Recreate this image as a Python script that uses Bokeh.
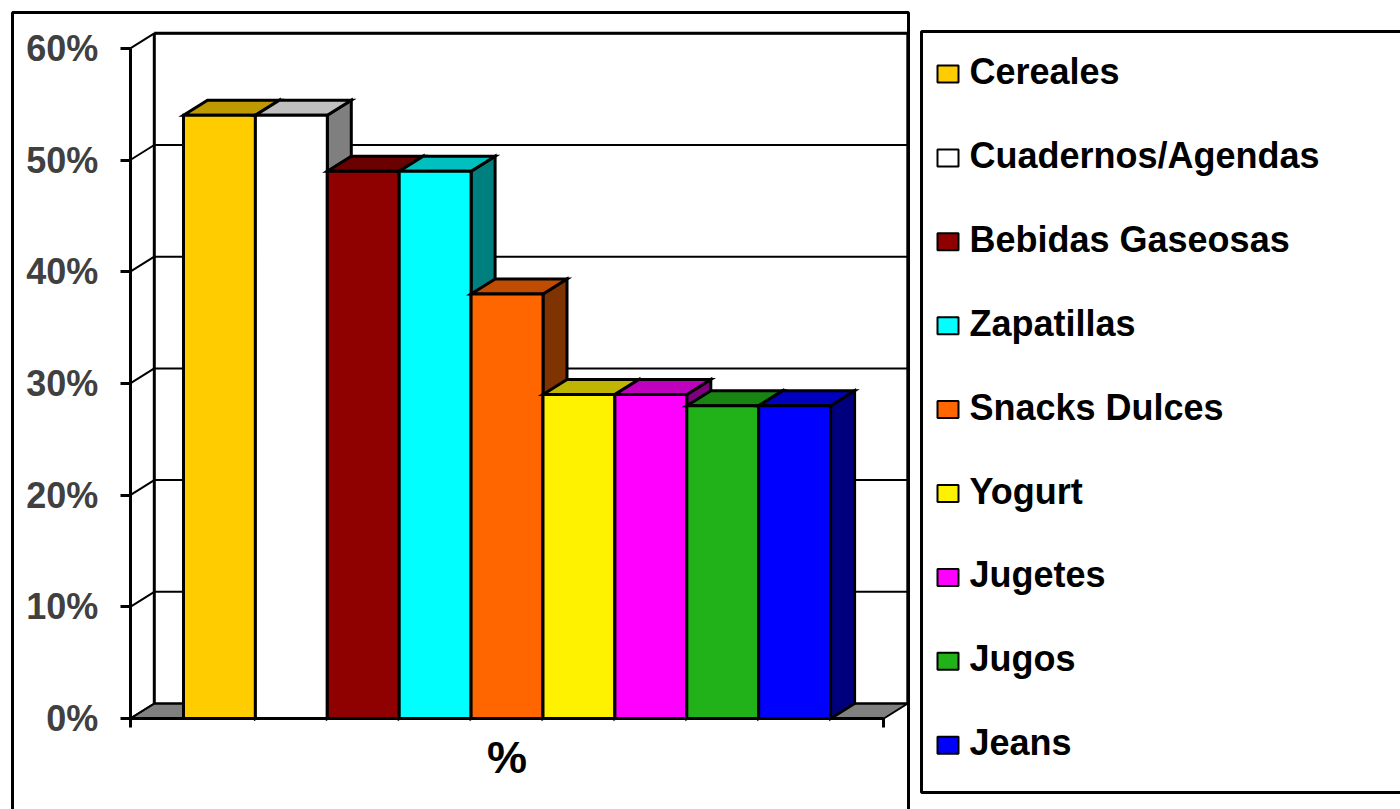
from bokeh.plotting import figure
from bokeh.models import Range1d, LinearAxis, FixedTicker, CustomJSTickFormatter
from bokeh.core.properties import value
from bokeh.embed import file_html
from bokeh.resources import INLINE

# ---------------- data ----------------
CATEGORIES = ["Cereales", "Cuadernos/Agendas", "Bebidas Gaseosas", "Zapatillas",
              "Snacks Dulces", "Yogurt", "Jugetes", "Jugos", "Jeans"]
VALUES = [54, 54, 49, 49, 38, 29, 29, 28, 28]
COLORS = ["#FFCC00", "#FFFFFF", "#8F0000", "#00FFFF", "#FF6600",
          "#FFF200", "#FF00FF", "#20B218", "#0000FF"]
Y_TICKS = [0, 10, 20, 30, 40, 50, 60]
Y_TICK_LABELS = ["0%", "10%", "20%", "30%", "40%", "50%", "60%"]
X_LABEL = "%"

# ---------------- layout (page pixels -> data units) ----------------
W, H = 1400, 809
PAGE = 0
X0_PX, UNIT_PX = 183.0, 71.9      # left edge of first bar, px per bar
Y0_PX, PCT_PX = 718.0, 11.17      # baseline, px per percent


def ux(px):
    return (px - X0_PX) / UNIT_PX


def vy(py):
    return (Y0_PX - py) / PCT_PX


DX = 24 / UNIT_PX      # 3-D depth offset
DY = 15 / PCT_PX
GAP = 0.74
n = len(VALUES)
XL, XR = -GAP, n + GAP
YMAX = Y_TICKS[-1]


def shade(hexcol, f):
    h = hexcol.lstrip("#")
    r, g, b = (int(h[i:i + 2], 16) for i in (0, 2, 4))
    return "#%02X%02X%02X" % (int(r * f), int(g * f), int(b * f))


p = figure(width=W, height=H,
           x_range=Range1d(ux(PAGE), ux(PAGE + W)),
           y_range=Range1d(vy(PAGE + H), vy(PAGE)),
           output_backend="svg", toolbar_location=None,
           x_axis_location=None, y_axis_location=None,
           min_border=0, outline_line_color=None)
p.xgrid.visible = False
p.ygrid.visible = False

# outer chart border
p.line([ux(12), ux(12), ux(908), ux(908)], [vy(840), vy(12), vy(12), vy(840)],
       line_color="black", line_width=3)

# floor
p.patch([XL, XL + DX, XR + DX, XR], [0, DY, DY, 0],
        fill_color="#808080", line_color="black", line_width=2)

# side wall diagonals + back wall gridlines
p.segment(x0=[XL] * len(Y_TICKS), y0=Y_TICKS,
          x1=[XL + DX] * len(Y_TICKS), y1=[t + DY for t in Y_TICKS],
          line_color="black", line_width=2)
p.segment(x0=[XL + DX] * len(Y_TICKS), y0=[t + DY for t in Y_TICKS],
          x1=[XR + DX] * len(Y_TICKS), y1=[t + DY for t in Y_TICKS],
          line_color="black", line_width=2)
# back wall edges
p.segment(x0=[XL + DX, XR + DX, XL + DX], y0=[DY, DY, YMAX + DY],
          x1=[XL + DX, XR + DX, XR + DX], y1=[YMAX + DY, YMAX + DY, YMAX + DY],
          line_color="black", line_width=3)

# 3-D bars
xs, ys, fills = [], [], []
for i, (v, c) in enumerate(zip(VALUES, COLORS)):
    x0, x1 = i, i + 1
    xs.append([x1, x1, x1 + DX, x1 + DX]); ys.append([0, v, v + DY, DY]); fills.append(shade(c, 0.5))
    xs.append([x0, x0 + DX, x1 + DX, x1]); ys.append([v, v + DY, v + DY, v]); fills.append(shade(c, 0.75))
    xs.append([x0, x0, x1, x1]); ys.append([0, v, v, 0]); fills.append(c)
p.patches(xs, ys, fill_color=fills, line_color="black", line_width=3, line_join="miter")

# axes
yaxis = LinearAxis(fixed_location=XL, bounds=(0, YMAX),
                   ticker=FixedTicker(ticks=Y_TICKS, minor_ticks=[]),
                   major_label_overrides=dict(zip(Y_TICKS, Y_TICK_LABELS)),
                   major_tick_out=10, major_tick_in=0,
                   minor_tick_out=0, minor_tick_in=0,
                   axis_line_width=3, major_tick_line_width=3,
                   major_label_standoff=22,
                   major_label_text_font="Liberation Sans",
                   major_label_text_font_style="bold",
                   major_label_text_font_size="36px",
                   major_label_text_color="#404040")
p.add_layout(yaxis, "left")

xaxis = LinearAxis(fixed_location=0, bounds=(XL, XR),
                   ticker=FixedTicker(ticks=[XL, XR], minor_ticks=[]),
                   formatter=CustomJSTickFormatter(code="return ''"),
                   major_tick_out=9, major_tick_in=0,
                   minor_tick_out=0, minor_tick_in=0,
                   axis_line_width=3, major_tick_line_width=3,
                   axis_label=X_LABEL, axis_label_standoff=4,
                   axis_label_text_font="Liberation Sans",
                   axis_label_text_font_style="bold",
                   axis_label_text_font_size="45px",
                   axis_label_text_color="black")
p.add_layout(xaxis, "below")

# legend (drawn box)
p.patch([ux(921), ux(921), ux(1430), ux(1430)], [vy(31), vy(792), vy(792), vy(31)],
        fill_color="white", line_color="black", line_width=3)
row = [73.5 + 83.9 * i for i in range(n)]
p.rect(x=[ux(947.5)] * n, y=[vy(r) for r in row],
       width=21 / UNIT_PX, height=17 / PCT_PX,
       fill_color=COLORS, line_color="black", line_width=2)
p.text(x=[ux(969)] * n, y=[vy(r - 2.5) for r in row], text=CATEGORIES,
       text_font=value("Liberation Sans"), text_font_style="bold",
       text_font_size="36px", text_color="black",
       text_align="left", text_baseline="alphabetic")

open("out.html", "w").write(file_html(p, INLINE))
